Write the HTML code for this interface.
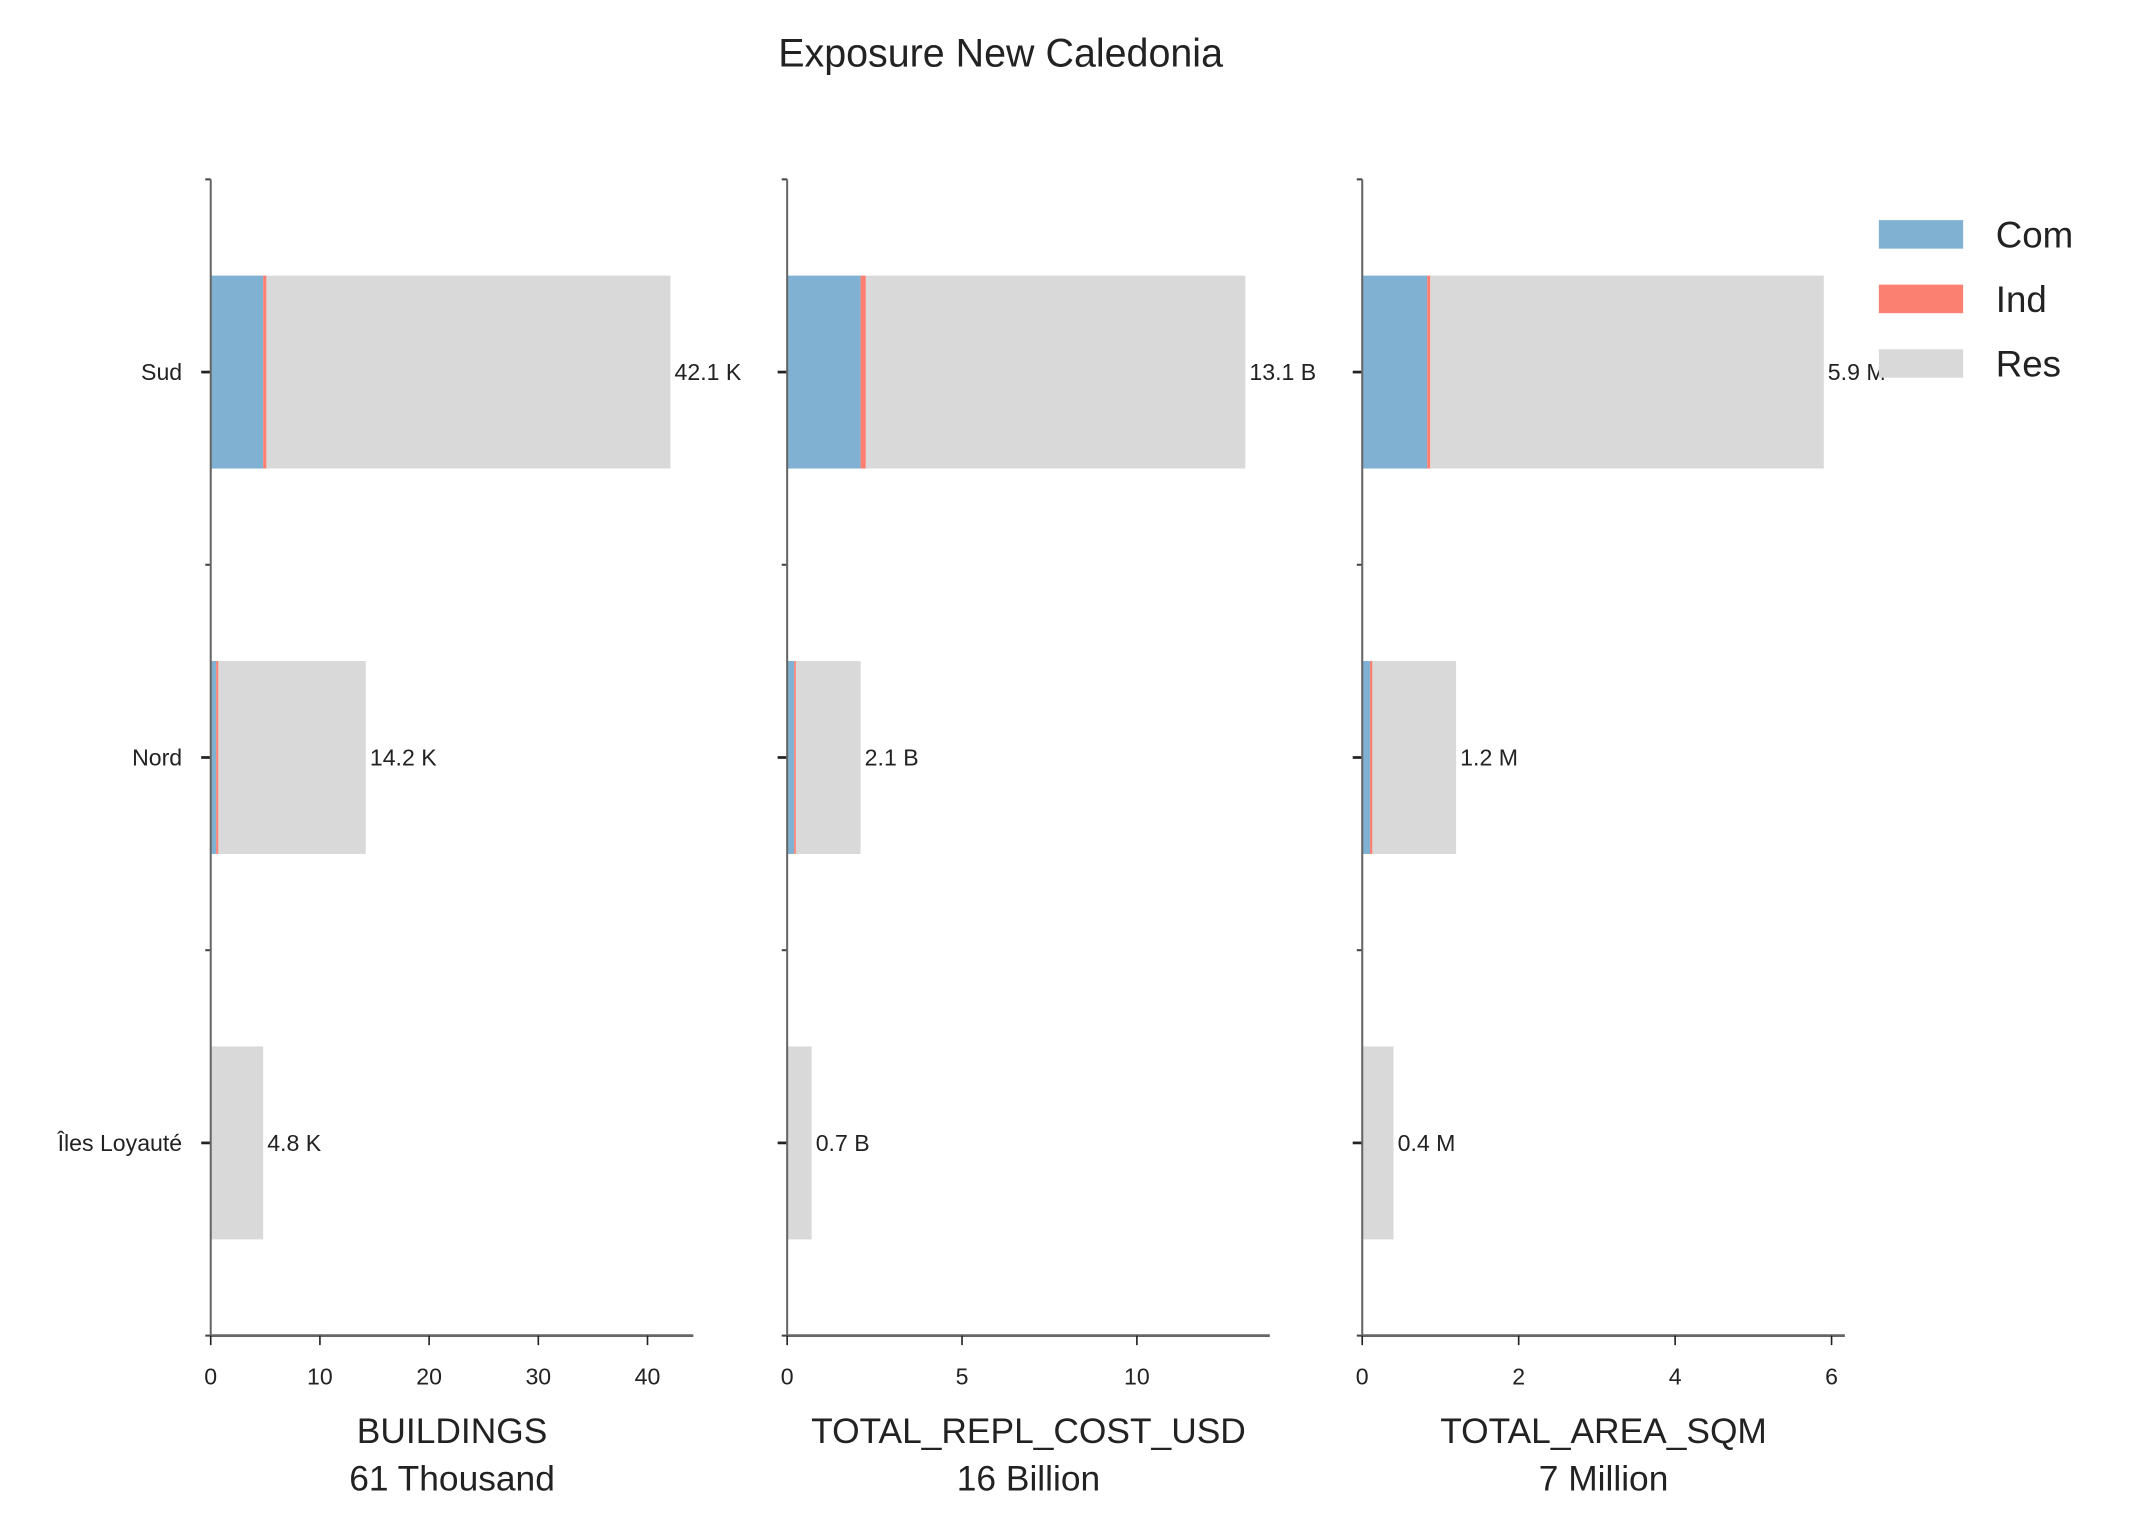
<!DOCTYPE html>
<html><head><meta charset="utf-8"><style>
html,body{margin:0;padding:0;background:#fff;}
svg{display:block;}
text{font-family:"Liberation Sans",sans-serif;fill:#222;}
</style></head><body>
<svg id="chart" width="2129" height="1534" viewBox="0 0 1566 1129" preserveAspectRatio="none" xmlns="http://www.w3.org/2000/svg">
<text x="736" y="49" text-anchor="middle" font-size="29">Exposure New Caledonia</text>
</svg>
<script>
const categories = ["Sud", "Nord", "Îles Loyauté"];
const metrics = ["BUILDINGS", "TOTAL_REPL_COST_USD", "TOTAL_AREA_SQM"];
const subtitles = ["61 Thousand", "16 Billion", "7 Million"];
const units = ["K", "B", "M"];
const comValues = [[4.8, 0.5, 0.05], [2.1, 0.2, 0.0], [0.83, 0.1, 0.0]];
const indValues = [[0.3, 0.2, 0.0], [0.15, 0.05, 0.0], [0.04, 0.03, 0.01]];
const totalValues = [[42.1, 14.2, 4.8], [13.1, 2.1, 0.7], [5.9, 1.2, 0.4]];
const xTicks = [[0, 10, 20, 30, 40], [0, 5, 10], [0, 2, 4, 6]];
const xMax = [44.2, 13.8, 6.17];
const seriesNames = ["Com", "Ind", "Res"];
const colors = ["#80b1d3", "#fb8072", "#d9d9d9"];

const svg = document.getElementById('chart');
const NS = "http://www.w3.org/2000/svg";
function mk(tag, attrs, parent) {
  const e = document.createElementNS(NS, tag);
  for (const k in attrs) e.setAttribute(k, attrs[k]);
  (parent || svg).appendChild(e);
  return e;
}
const panelLeft = [155, 579, 1002];
const panelWidth = 355;
const yTop = 132, yBot = 983;
const band = (yBot - yTop) / categories.length;
const yCenter = i => yTop + band * (i + 0.5);
const barH = 142;

for (let p = 0; p < 3; p++) {
  const x0 = panelLeft[p];
  const xs = v => x0 + v / xMax[p] * panelWidth;
  const g = mk('g', {});
  
  
  for (let i = 0; i < categories.length; i++) {
    const yc = yCenter(i);
    const c = comValues[p][i], ind = indValues[p][i], tot = totalValues[p][i];
    const segs = [[0, c], [c, c + ind], [c + ind, tot]];
    for (let s = 0; s < 3; s++) {
      const w = xs(segs[s][1]) - xs(segs[s][0]);
      if (w <= 0) continue;
      const r = mk('rect', { x: xs(segs[s][0]), y: yc - barH / 2, width: w, height: barH, fill: colors[s] }, g);
      
      
    }
    const t = mk('text', { x: xs(tot) + 3, y: yc + 6, 'font-size': 17 }, g);
    t.textContent = tot.toFixed(1) + ' ' + units[p];
    
    
    mk('line', { x1: x0 - 7, x2: x0, y1: yc, y2: yc, stroke: '#222', 'stroke-width': 2 }, g);
    if (p === 0) {
      const cl = mk('text', { x: x0 - 21, y: yc + 6, 'font-size': 17, 'text-anchor': 'end' }, g);
      cl.textContent = categories[i];
      
      
    }
  }
  for (let k = 0; k <= categories.length; k++) {
    const y = yTop + band * k;
    mk('line', { x1: x0 - 4, x2: x0, y1: y, y2: y, stroke: '#444', 'stroke-width': 1.5 }, g);
  }
  const ya = mk('line', { x1: x0, x2: x0, y1: yTop, y2: yBot, stroke: '#666', 'stroke-width': 1.5 }, g);
  
  
  const xa = mk('line', { x1: x0, x2: x0 + panelWidth, y1: yBot, y2: yBot, stroke: '#666', 'stroke-width': 2 }, g);
  
  
  for (const v of xTicks[p]) {
    mk('line', { x1: xs(v), x2: xs(v), y1: yBot, y2: yBot + 7, stroke: '#222', 'stroke-width': 1.2 }, g);
    const tl = mk('text', { x: xs(v), y: yBot + 36, 'font-size': 17, 'text-anchor': 'middle' }, g);
    tl.textContent = v;
    
    
  }
  const cx = x0 + panelWidth / 2;
  const at = mk('text', { x: cx, y: 1062, 'font-size': 26, 'text-anchor': 'middle' }, g);
  at.textContent = metrics[p];
  
  
  const st = mk('text', { x: cx, y: 1097, 'font-size': 26, 'text-anchor': 'middle' }, g);
  st.textContent = subtitles[p];
  
  
}
const lg = mk('g', {});


for (let s = 0; s < 3; s++) {
  const y = 162 + s * 47.5;
  const r = mk('rect', { x: 1382, y: y, width: 62, height: 21, fill: colors[s] }, lg);
  
  
  const t = mk('text', { x: 1468, y: y + 20, 'font-size': 27 }, lg);
  t.textContent = seriesNames[s];
  
  
}
</script>
</body></html>
